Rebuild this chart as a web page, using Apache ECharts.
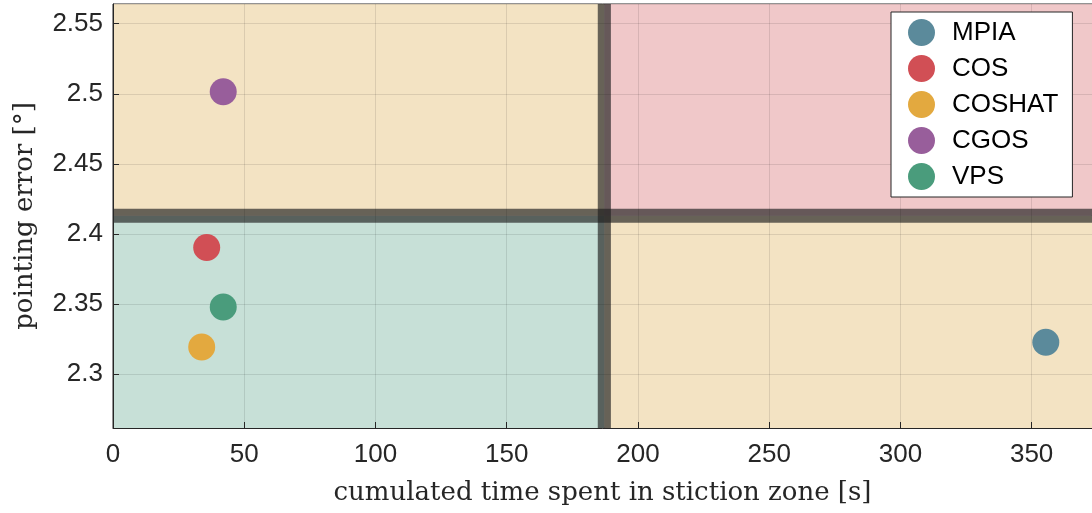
<!DOCTYPE html>
<html>
<head>
<meta charset="utf-8">
<script src="https://cdn.jsdelivr.net/npm/echarts@6/dist/echarts.min.js"></script>
<style>html,body{margin:0;padding:0;background:#fff}#c{width:1092px;height:513px}</style>
</head>
<body>
<div id="c"></div>
<script>
// ---- data ----
const seriesNames = ['MPIA', 'COS', 'COSHAT', 'CGOS', 'VPS'];
const timeValues = [355.4, 35.7, 33.8, 42.0, 42.0];
const errorValues = [2.3228, 2.3904, 2.3195, 2.5014, 2.348];
const seriesColors = ['#5B8A9B', '#D14F55', '#E3A93F', '#985E9B', '#4A9C7C'];
const xRange = [0, 373];
const yRange = [2.2617, 2.564];
const timeThreshold = 187.2;   // vertical band centre
const errorThreshold = 2.413;  // horizontal band centre
const bandHalfX = 2.5;
const bandHalfY = 0.005;

const regionTan = '#F3E3C3', regionPink = '#F0C8C9', regionTeal = '#C7E0D7';
const bandColor = 'rgba(30,30,30,0.66)';
const sansFont = '"Liberation Sans", Arial, Helvetica, sans-serif';
const serifFont = '"DejaVu Serif", serif';

const regionSeries = {
  type: 'scatter', data: [], z: 1, silent: true,
  markArea: {
    silent: true,
    data: [
      [{coord: [xRange[0], yRange[0]], itemStyle: {color: regionTeal}}, {coord: [timeThreshold, errorThreshold]}],
      [{coord: [timeThreshold, yRange[0]], itemStyle: {color: regionTan}}, {coord: [xRange[1], errorThreshold]}],
      [{coord: [xRange[0], errorThreshold], itemStyle: {color: regionTan}}, {coord: [timeThreshold, yRange[1]]}],
      [{coord: [timeThreshold, errorThreshold], itemStyle: {color: regionPink}}, {coord: [xRange[1], yRange[1]]}]
    ]
  }
};
const bandSeries = {
  type: 'scatter', data: [], z: 4, silent: true,
  markArea: {
    silent: true,
    itemStyle: {color: bandColor},
    data: [
      [{coord: [timeThreshold - bandHalfX, yRange[0]]}, {coord: [timeThreshold + bandHalfX, yRange[1]]}],
      [{coord: [xRange[0], errorThreshold - bandHalfY]}, {coord: [xRange[1], errorThreshold + bandHalfY]}]
    ]
  }
};

const pointSeries = seriesNames.map((n, i) => ({
  name: n, type: 'scatter', z: 6,
  symbol: 'circle', symbolSize: 27,
  itemStyle: {color: seriesColors[i], opacity: 1},
  data: [[timeValues[i], errorValues[i]]]
}));

const chart = echarts.init(document.getElementById('c'), null, {renderer: 'canvas'});
chart.setOption({
  animation: false,
  backgroundColor: '#fff',
  grid: {left: 113, right: 0, top: 4, bottom: 85, containLabel: false, outerBoundsMode: 'none',
    show: true, borderColor: '#262626', borderWidth: 1, backgroundColor: 'transparent'},
  xAxis: {
    type: 'value', min: xRange[0], max: xRange[1], interval: 50, z: 3,
    name: 'cumulated time spent in stiction zone [s]', nameLocation: 'middle', nameGap: 52,
    nameTextStyle: {fontFamily: serifFont, fontSize: 26, color: '#262626'},
    axisLine: {show: true, lineStyle: {color: '#262626', width: 1}},
    axisTick: {show: true, inside: true, length: 6, lineStyle: {color: '#262626'}},
    axisLabel: {fontFamily: sansFont, fontSize: 26, color: '#262626', margin: 14, showMaxLabel: false},
    splitLine: {show: true, lineStyle: {color: 'rgba(0,0,0,0.1)', width: 1}}
  },
  yAxis: {
    type: 'value', min: yRange[0], max: yRange[1], splitNumber: 6, z: 3,
    name: 'pointing error [°]', nameLocation: 'middle', nameGap: 75,
    nameTextStyle: {fontFamily: serifFont, fontSize: 26, color: '#262626'},
    axisLine: {show: true, lineStyle: {color: '#262626', width: 1}},
    axisTick: {show: true, inside: true, length: 6, lineStyle: {color: '#262626'}},
    axisLabel: {fontFamily: sansFont, fontSize: 26, color: '#262626', margin: 10, showMinLabel: false, showMaxLabel: false,
      formatter: v => String(+v.toFixed(3))},
    splitLine: {show: true, lineStyle: {color: 'rgba(0,0,0,0.1)', width: 1}}
  },
  legend: {
    orient: 'vertical', left: 891, top: 12,
    data: seriesNames,
    icon: 'circle', itemWidth: 27, itemHeight: 27, itemGap: 9,
    backgroundColor: '#fff', borderColor: '#262626', borderWidth: 1, borderRadius: 0,
    padding: [7, 14, 7, 17],
    textStyle: {fontFamily: sansFont, fontSize: 26, color: '#000', padding: [0, 0, 0, 12]}
  },
  series: [regionSeries, bandSeries].concat(pointSeries)
});
</script>
</body>
</html>
